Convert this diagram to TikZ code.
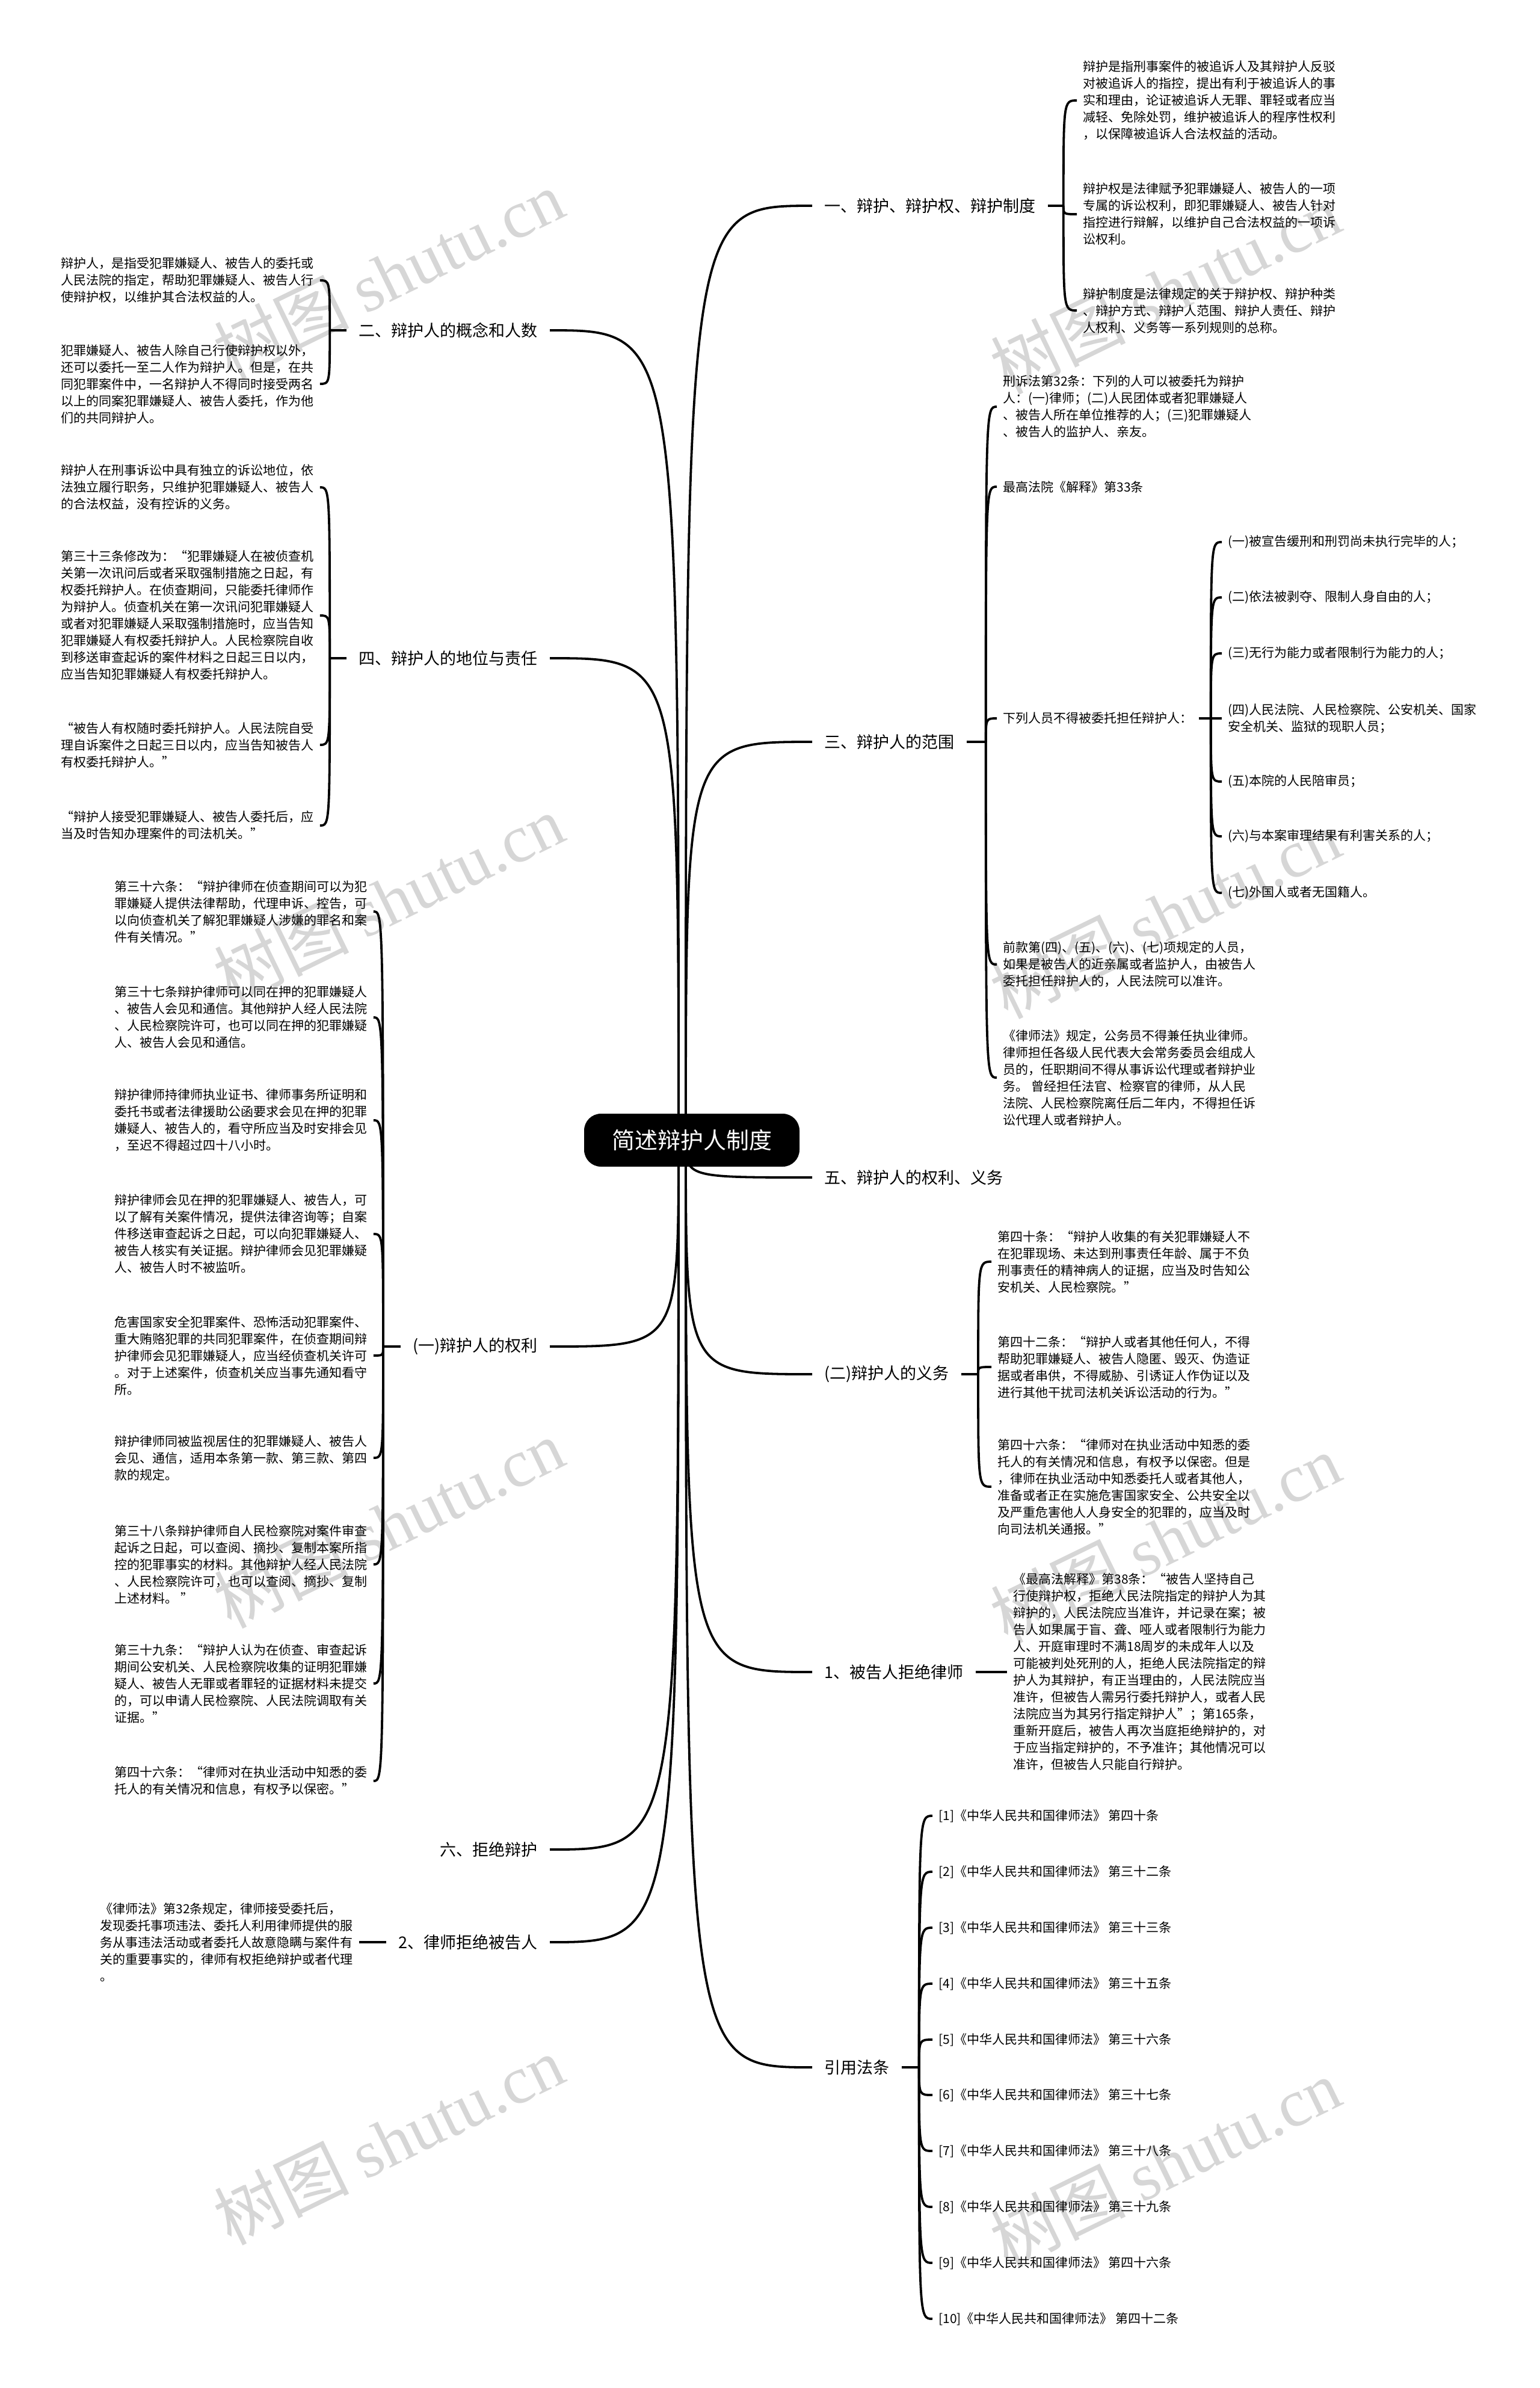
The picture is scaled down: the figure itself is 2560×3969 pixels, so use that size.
\documentclass[tikz,border=0pt]{standalone}
\usepackage{fontspec}
\setmainfont{Noto Sans CJK SC}
\newfontfamily\wmfont{Liberation Serif}
\usetikzlibrary{positioning, backgrounds}

\begin{document}
\begin{tikzpicture}[
    x=0.5pt, y=-0.5pt,
    root/.style={rectangle, rounded corners=14pt, fill=black, text=white, minimum width=179pt, minimum height=44pt, inner sep=0pt, font=\fontsize{19}{22}\selectfont},
    branch/.style={rectangle, inner xsep=10pt, inner ysep=3pt, font=\fontsize{13.5}{16}\selectfont},
    leaf/.style={rectangle, inner xsep=5pt, inner ysep=2pt, align=left, font=\fontsize{10.5}{14}\selectfont},
    link/.style={line width=1.9pt},
    twig/.style={to path={.. controls (\tikztostart |- \tikztotarget) and (\tikztostart |- \tikztotarget) .. (\tikztotarget)}},
    wmark/.style={rotate=26, text=black!16, font=\fontsize{56}{56}\selectfont}
]
\useasboundingbox (0,0) rectangle (2560,3969);
\begin{scope}[on background layer]
\fill[white] (0,0) rectangle (2560,3969);
\foreach \wx/\wy [count=\i] in {646/456, 1937/481, 646/1494, 1937/1519, 646/2532, 1937/2557, 646/3557, 1937/3595}
    \node[wmark] (wm\i) at (\wx,\wy) {树图 {\wmfont shutu.cn}};
\end{scope}

% Root
\node[root] (root) at (1150,1895) {简述辩护人制度};
\coordinate (rootR) at (1140,1895);
\coordinate (rootL) at (1128,1895);

% Branches, right
\node[branch, anchor=west] (b1) at (1350,342) {一、辩护、辩护权、辩护制度};
\node[branch, anchor=west] (b3) at (1350,1233) {三、辩护人的范围};
\node[branch, anchor=west] (b5) at (1350,1957) {五、辩护人的权利、义务};
\node[branch, anchor=west] (bduty) at (1350,2284) {(二)辩护人的义务};
\node[branch, anchor=west] (brefuse1) at (1350,2779) {1、被告人拒绝律师};
\node[branch, anchor=west] (bref) at (1350,3436) {引用法条};

% Branches, left
\node[branch, anchor=east] (b2) at (914,549) {二、辩护人的概念和人数};
\node[branch, anchor=east] (b4) at (914,1094) {四、辩护人的地位与责任};
\node[branch, anchor=east] (bright) at (914,2238) {(一)辩护人的权利};
\node[branch, anchor=east] (b6) at (914,3074) {六、拒绝辩护};
\node[branch, anchor=east] (brefuse2) at (914,3228) {2、律师拒绝被告人};

% Junctions
\coordinate[right=13pt of b1] (j1);
\coordinate[right=16pt of b3] (j3);
\coordinate[right=14pt of bduty] (jduty);
\coordinate[right=14.5pt of bref] (jref);
\coordinate[left=14pt of b2] (j2);
\coordinate[left=14pt of b4] (j4);
\coordinate[left=14.5pt of bright] (jright);

% Leaves of 一
\node[leaf, anchor=west] (a1) at (1790,167) {辩护是指刑事案件的被追诉人及其辩护人反驳\\对被追诉人的指控，提出有利于被追诉人的事\\实和理由，论证被追诉人无罪、罪轻或者应当\\减轻、免除处罚，维护被追诉人的程序性权利\\，以保障被追诉人合法权益的活动。};
\node[leaf, anchor=west] (a2) at (1790,356) {辩护权是法律赋予犯罪嫌疑人、被告人的一项\\专属的诉讼权利，即犯罪嫌疑人、被告人针对\\指控进行辩解，以维护自己合法权益的一项诉\\讼权利。};
\node[leaf, anchor=west] (a3) at (1790,516) {辩护制度是法律规定的关于辩护权、辩护种类\\、辩护方式、辩护人范围、辩护人责任、辩护\\人权利、义务等一系列规则的总称。};

% Leaves of 三
\node[leaf, anchor=west] (c1) at (1657,676) {刑诉法第32条：下列的人可以被委托为辩护\\人：(一)律师；(二)人民团体或者犯罪嫌疑人\\、被告人所在单位推荐的人；(三)犯罪嫌疑人\\、被告人的监护人、亲友。};
\node[leaf, anchor=west] (c2) at (1657,809) {最高法院《解释》第33条};
\node[leaf, anchor=west] (c3) at (1657,1194) {下列人员不得被委托担任辩护人：};
\node[leaf, anchor=west] (c4) at (1657,1603) {前款第(四)、(五)、(六)、(七)项规定的人员，\\如果是被告人的近亲属或者监护人，由被告人\\委托担任辩护人的，人民法院可以准许。};
\node[leaf, anchor=west] (c5) at (1657,1791) {《律师法》规定，公务员不得兼任执业律师。\\律师担任各级人民代表大会常务委员会组成人\\员的，任职期间不得从事诉讼代理或者辩护业\\务。 曾经担任法官、检察官的律师，从人民\\法院、人民检察院离任后二年内，不得担任诉\\讼代理人或者辩护人。};
\coordinate[right=10pt of c3] (jc3);
\node[leaf, anchor=west] (d1) at (2031,901) {(一)被宣告缓刑和刑罚尚未执行完毕的人；};
\node[leaf, anchor=west] (d2) at (2031,993) {(二)依法被剥夺、限制人身自由的人；};
\node[leaf, anchor=west] (d3) at (2031,1086) {(三)无行为能力或者限制行为能力的人；};
\node[leaf, anchor=west] (d4) at (2031,1194) {(四)人民法院、人民检察院、公安机关、国家\\安全机关、监狱的现职人员；};
\node[leaf, anchor=west] (d5) at (2031,1299) {(五)本院的人民陪审员；};
\node[leaf, anchor=west] (d6) at (2031,1390) {(六)与本案审理结果有利害关系的人；};
\node[leaf, anchor=west] (d7) at (2031,1484) {(七)外国人或者无国籍人。};

% Leaves of (二)
\node[leaf, anchor=west] (e1) at (1648,2097) {第四十条：“辩护人收集的有关犯罪嫌疑人不\\在犯罪现场、未达到刑事责任年龄、属于不负\\刑事责任的精神病人的证据，应当及时告知公\\安机关、人民检察院。”};
\node[leaf, anchor=west] (e2) at (1648,2272) {第四十二条：“辩护人或者其他任何人，不得\\帮助犯罪嫌疑人、被告人隐匿、毁灭、伪造证\\据或者串供，不得威胁、引诱证人作伪证以及\\进行其他干扰司法机关诉讼活动的行为。”};
\node[leaf, anchor=west] (e3) at (1648,2471) {第四十六条：“律师对在执业活动中知悉的委\\托人的有关情况和信息，有权予以保密。但是\\，律师在执业活动中知悉委托人或者其他人，\\准备或者正在实施危害国家安全、公共安全以\\及严重危害他人人身安全的犯罪的，应当及时\\向司法机关通报。”};

% Leaf of 1、
\node[leaf, anchor=west] (f1) at (1674,2779) {《最高法解释》第38条：“被告人坚持自己\\行使辩护权，拒绝人民法院指定的辩护人为其\\辩护的，人民法院应当准许，并记录在案；被\\告人如果属于盲、聋、哑人或者限制行为能力\\人、开庭审理时不满18周岁的未成年人以及\\可能被判处死刑的人，拒绝人民法院指定的辩\\护人为其辩护，有正当理由的，人民法院应当\\准许，但被告人需另行委托辩护人，或者人民\\法院应当为其另行指定辩护人”；第165条，\\重新开庭后，被告人再次当庭拒绝辩护的，对\\于应当指定辩护的，不予准许；其他情况可以\\准许，但被告人只能自行辩护。};

% Leaves of 引用法条
\node[leaf, anchor=west] (r1) at (1550,3018) {[1]《中华人民共和国律师法》 第四十条};
\node[leaf, anchor=west] (r2) at (1550,3111) {[2]《中华人民共和国律师法》 第三十二条};
\node[leaf, anchor=west] (r3) at (1550,3204) {[3]《中华人民共和国律师法》 第三十三条};
\node[leaf, anchor=west] (r4) at (1550,3297) {[4]《中华人民共和国律师法》 第三十五条};
\node[leaf, anchor=west] (r5) at (1550,3390) {[5]《中华人民共和国律师法》 第三十六条};
\node[leaf, anchor=west] (r6) at (1550,3482) {[6]《中华人民共和国律师法》 第三十七条};
\node[leaf, anchor=west] (r7) at (1550,3575) {[7]《中华人民共和国律师法》 第三十八条};
\node[leaf, anchor=west] (r8) at (1550,3668) {[8]《中华人民共和国律师法》 第三十九条};
\node[leaf, anchor=west] (r9) at (1550,3761) {[9]《中华人民共和国律师法》 第四十六条};
\node[leaf, anchor=west] (r10) at (1550,3854) {[10]《中华人民共和国律师法》 第四十二条};

% Leaves of 二
\node[leaf, anchor=west] (g1) at (91,466) {辩护人，是指受犯罪嫌疑人、被告人的委托或\\人民法院的指定，帮助犯罪嫌疑人、被告人行\\使辩护权，以维护其合法权益的人。};
\node[leaf, anchor=west] (g2) at (91,638) {犯罪嫌疑人、被告人除自己行使辩护权以外，\\还可以委托一至二人作为辩护人。但是，在共\\同犯罪案件中，一名辩护人不得同时接受两名\\以上的同案犯罪嫌疑人、被告人委托，作为他\\们的共同辩护人。};

% Leaves of 四
\node[leaf, anchor=west] (h1) at (91,810) {辩护人在刑事诉讼中具有独立的诉讼地位，依\\法独立履行职务，只维护犯罪嫌疑人、被告人\\的合法权益，没有控诉的义务。};
\node[leaf, anchor=west] (h2) at (91,1023) {第三十三条修改为：“犯罪嫌疑人在被侦查机\\关第一次讯问后或者采取强制措施之日起，有\\权委托辩护人。在侦查期间，只能委托律师作\\为辩护人。侦查机关在第一次讯问犯罪嫌疑人\\或者对犯罪嫌疑人采取强制措施时，应当告知\\犯罪嫌疑人有权委托辩护人。人民检察院自收\\到移送审查起诉的案件材料之日起三日以内，\\应当告知犯罪嫌疑人有权委托辩护人。};
\node[leaf, anchor=west] (h3) at (91,1238) {“被告人有权随时委托辩护人。人民法院自受\\理自诉案件之日起三日以内，应当告知被告人\\有权委托辩护人。”};
\node[leaf, anchor=west] (h4) at (91,1372) {“辩护人接受犯罪嫌疑人、被告人委托后，应\\当及时告知办理案件的司法机关。”};

% Leaves of (一)
\node[leaf, anchor=west] (k1) at (180,1515) {第三十六条：“辩护律师在侦查期间可以为犯\\罪嫌疑人提供法律帮助，代理申诉、控告，可\\以向侦查机关了解犯罪嫌疑人涉嫌的罪名和案\\件有关情况。”};
\node[leaf, anchor=west] (k2) at (180,1691) {第三十七条辩护律师可以同在押的犯罪嫌疑人\\、被告人会见和通信。其他辩护人经人民法院\\、人民检察院许可，也可以同在押的犯罪嫌疑\\人、被告人会见和通信。};
\node[leaf, anchor=west] (k3) at (180,1862) {辩护律师持律师执业证书、律师事务所证明和\\委托书或者法律援助公函要求会见在押的犯罪\\嫌疑人、被告人的，看守所应当及时安排会见\\，至迟不得超过四十八小时。};
\node[leaf, anchor=west] (k4) at (180,2051) {辩护律师会见在押的犯罪嫌疑人、被告人，可\\以了解有关案件情况，提供法律咨询等；自案\\件移送审查起诉之日起，可以向犯罪嫌疑人、\\被告人核实有关证据。辩护律师会见犯罪嫌疑\\人、被告人时不被监听。};
\node[leaf, anchor=west] (k5) at (180,2253) {危害国家安全犯罪案件、恐怖活动犯罪案件、\\重大贿赂犯罪的共同犯罪案件，在侦查期间辩\\护律师会见犯罪嫌疑人，应当经侦查机关许可\\。对于上述案件，侦查机关应当事先通知看守\\所。};
\node[leaf, anchor=west] (k6) at (180,2423) {辩护律师同被监视居住的犯罪嫌疑人、被告人\\会见、通信，适用本条第一款、第三款、第四\\款的规定。};
\node[leaf, anchor=west] (k7) at (180,2600) {第三十八条辩护律师自人民检察院对案件审查\\起诉之日起，可以查阅、摘抄、复制本案所指\\控的犯罪事实的材料。其他辩护人经人民法院\\、人民检察院许可，也可以查阅、摘抄、复制\\上述材料。 ”};
\node[leaf, anchor=west] (k8) at (180,2798) {第三十九条：“辩护人认为在侦查、审查起诉\\期间公安机关、人民检察院收集的证明犯罪嫌\\疑人、被告人无罪或者罪轻的证据材料未提交\\的，可以申请人民检察院、人民法院调取有关\\证据。”};
\node[leaf, anchor=west] (k9) at (180,2960) {第四十六条：“律师对在执业活动中知悉的委\\托人的有关情况和信息，有权予以保密。”};

% Leaf of 2、
\node[leaf, anchor=west] (m1) at (156,3228) {《律师法》第32条规定，律师接受委托后，\\发现委托事项违法、委托人利用律师提供的服\\务从事违法活动或者委托人故意隐瞒与案件有\\关的重要事实的，律师有权拒绝辩护或者代理\\。};

% Connectors
\begin{scope}[on background layer]
\draw[link] (rootR) to[twig] (b1.west);
\draw[link] (rootR) to[twig] (b3.west);
\draw[link] (rootR) to[twig] (b5.west);
\draw[link] (rootR) to[twig] (bduty.west);
\draw[link] (rootR) to[twig] (brefuse1.west);
\draw[link] (rootR) to[twig] (bref.west);
\draw[link] (rootL) to[twig] (b2.east);
\draw[link] (rootL) to[twig] (b4.east);
\draw[link] (rootL) to[twig] (bright.east);
\draw[link] (rootL) to[twig] (b6.east);
\draw[link] (rootL) to[twig] (brefuse2.east);

\draw[link] (b1.east) -- (j1);
\draw[link] (j1) to[twig] (a1.west);
\draw[link] (j1) to[twig] (a2.west);
\draw[link] (j1) to[twig] (a3.west);

\draw[link] (b3.east) -- (j3);
\draw[link] (j3) to[twig] (c1.west);
\draw[link] (j3) to[twig] (c2.west);
\draw[link] (j3) to[twig] (c3.west);
\draw[link] (j3) to[twig] (c4.west);
\draw[link] (j3) to[twig] (c5.west);

\draw[link] (c3.east) -- (jc3);
\draw[link] (jc3) to[twig] (d1.west);
\draw[link] (jc3) to[twig] (d2.west);
\draw[link] (jc3) to[twig] (d3.west);
\draw[link] (jc3) to[twig] (d4.west);
\draw[link] (jc3) to[twig] (d5.west);
\draw[link] (jc3) to[twig] (d6.west);
\draw[link] (jc3) to[twig] (d7.west);

\draw[link] (bduty.east) -- (jduty);
\draw[link] (jduty) to[twig] (e1.west);
\draw[link] (jduty) to[twig] (e2.west);
\draw[link] (jduty) to[twig] (e3.west);

\draw[link] (brefuse1.east) -- (f1.west);

\draw[link] (bref.east) -- (jref);
\draw[link] (jref) to[twig] (r1.west);
\draw[link] (jref) to[twig] (r2.west);
\draw[link] (jref) to[twig] (r3.west);
\draw[link] (jref) to[twig] (r4.west);
\draw[link] (jref) to[twig] (r5.west);
\draw[link] (jref) to[twig] (r6.west);
\draw[link] (jref) to[twig] (r7.west);
\draw[link] (jref) to[twig] (r8.west);
\draw[link] (jref) to[twig] (r9.west);
\draw[link] (jref) to[twig] (r10.west);

\draw[link] (b2.west) -- (j2);
\draw[link] (j2) to[twig] (g1.east);
\draw[link] (j2) to[twig] (g2.east);

\draw[link] (b4.west) -- (j4);
\draw[link] (j4) to[twig] (h1.east);
\draw[link] (j4) to[twig] (h2.east);
\draw[link] (j4) to[twig] (h3.east);
\draw[link] (j4) to[twig] (h4.east);

\draw[link] (bright.west) -- (jright);
\draw[link] (jright) to[twig] (k1.east);
\draw[link] (jright) to[twig] (k2.east);
\draw[link] (jright) to[twig] (k3.east);
\draw[link] (jright) to[twig] (k4.east);
\draw[link] (jright) to[twig] (k5.east);
\draw[link] (jright) to[twig] (k6.east);
\draw[link] (jright) to[twig] (k7.east);
\draw[link] (jright) to[twig] (k8.east);
\draw[link] (jright) to[twig] (k9.east);

\draw[link] (brefuse2.west) -- (m1.east);
\end{scope}

\end{tikzpicture}
\end{document}
